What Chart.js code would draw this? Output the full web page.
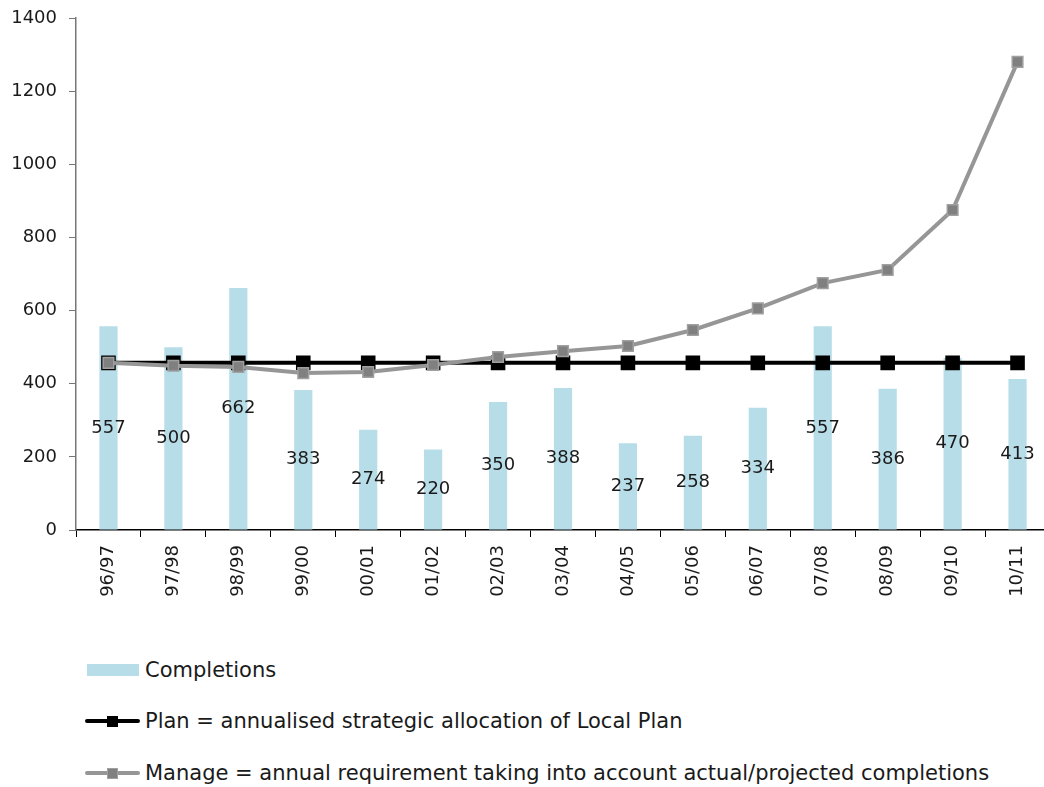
<!DOCTYPE html>
<html>
<head>
<meta charset="utf-8">
<script src="https://cdn.jsdelivr.net/npm/chart.js@4/dist/chart.umd.min.js"></script>
<style>
  body { margin: 0; overflow: hidden; background: #fff; }
  #wrap { position: relative; width: 1052px; height: 787px; }
  #c { position: absolute; left: 0; top: 0; }
  #legend { position: absolute; left: 85px; top: 0; font-family: "DejaVu Sans", sans-serif; font-size: 21px; color: #1a1a1a; }
  .item { position: absolute; left: 0; white-space: nowrap; display: flex; align-items: center; height: 30px; }
  .sw { position: relative; width: 55px; height: 30px; margin-right: 5px; }
  .box { position: absolute; left: 2px; top: 9px; width: 52px; height: 12px; }
  .ln { position: absolute; left: 0; top: 13px; width: 55px; height: 4px; border-radius: 2px; }
  .pt { position: absolute; left: 22px; top: 10px; width: 11px; height: 11px; box-sizing: border-box; }
</style>
</head>
<body>
<div id="wrap">
  <canvas id="c" width="1052" height="625"></canvas>
  <div id="legend"></div>
</div>
<script>
// years on the x axis
const years = ['96/97','97/98','98/99','99/00','00/01','01/02','02/03','03/04','04/05','05/06','06/07','07/08','08/09','09/10','10/11'];

// completions (bars, labelled)
const completions = [557, 500, 662, 383, 274, 220, 350, 388, 237, 258, 334, 557, 386, 470, 413];

// plan line
const plan = [457, 457, 457, 457, 457, 457, 457, 457, 457, 457, 457, 457, 457, 457, 457];

// manage line
const manage = [457, 449, 446, 429, 432, 451, 473, 489, 503, 547, 606, 675, 711, 875, 1280];

const yTicks = [0, 200, 400, 600, 800, 1000, 1200, 1400];

const names = [
  'Completions',
  'Plan = annualised strategic allocation of Local Plan',
  'Manage = annual requirement taking into account actual/projected completions'
];

const font = '"DejaVu Sans", sans-serif';

// write the bar values in the middle of each bar
const barLabels = {
  id: 'barLabels',
  afterDatasetsDraw: function (chart) {
    const ctx = chart.ctx;
    const meta = chart.getDatasetMeta(2);
    ctx.save();
    ctx.font = '18px ' + font;
    ctx.fillStyle = '#1a1a1a';
    ctx.textAlign = 'center';
    ctx.textBaseline = 'middle';
    meta.data.forEach(function (bar, i) {
      ctx.fillText(String(completions[i]), bar.x, (bar.y + bar.base) / 2);
    });
    ctx.restore();
  }
};

const chart = new Chart(document.getElementById('c'), {
  type: 'bar',
  data: {
    labels: years,
    datasets: [
      {
        type: 'line',
        label: names[2],
        data: manage,
        order: 0,
        borderColor: '#969696',
        borderWidth: 4,
        pointStyle: 'rect',
        pointRadius: 7.5,
        pointBackgroundColor: '#808080',
        pointBorderColor: '#a0a0a0',
        pointBorderWidth: 1.5,
        tension: 0
      },
      {
        type: 'line',
        label: names[1],
        data: plan,
        order: 1,
        borderColor: '#000',
        borderWidth: 4,
        pointStyle: 'rect',
        pointRadius: 7.5,
        pointBackgroundColor: '#000',
        pointBorderColor: '#000',
        tension: 0
      },
      {
        label: names[0],
        data: completions,
        order: 2,
        backgroundColor: '#b7dde8',
        barPercentage: 0.28,
        categoryPercentage: 1
      }
    ]
  },
  options: {
    responsive: false,
    animation: false,
    layout: { autoPadding: false, padding: { top: 18, right: 2, left: 0, bottom: 0 } },
    plugins: {
      legend: { display: false },
      tooltip: { enabled: false }
    },
    scales: {
      x: {
        offset: true,
        grid: { drawOnChartArea: false, offset: true, tickLength: 7, color: '#000' },
        border: { color: '#000', width: 1.5 },
        ticks: { maxRotation: 90, minRotation: 90, padding: 8, color: '#1a1a1a', font: { family: font, size: 18 } },
        afterFit: function (s) { s.height = 95; s.paddingLeft = 0; s.paddingRight = 0; }
      },
      y: {
        min: 0,
        max: 1400,
        afterBuildTicks: function (s) { s.ticks = yTicks.map(v => ({ value: v })); },
        grid: { drawOnChartArea: false, tickLength: 7, color: '#777' },
        border: { color: '#777', width: 1.5 },
        ticks: { padding: 12, color: '#1a1a1a', font: { family: font, size: 18 }, callback: v => String(v) },
        afterFit: function (s) { s.width = 76; s.paddingTop = 0; s.paddingBottom = 0; }
      }
    }
  },
  plugins: [barLabels]
});

// legend below the chart, one item per line
const legendTops = [655, 706, 758];
const legendOrder = [2, 1, 0];
const legend = document.getElementById('legend');
legendOrder.forEach(function (di, row) {
  const ds = chart.data.datasets[di];
  const item = document.createElement('div');
  item.className = 'item';
  item.style.top = legendTops[row] + 'px';
  const sw = document.createElement('div');
  sw.className = 'sw';
  if (ds.type === 'line') {
    const ln = document.createElement('div');
    ln.className = 'ln';
    ln.style.background = ds.borderColor;
    const pt = document.createElement('div');
    pt.className = 'pt';
    pt.style.background = ds.pointBackgroundColor;
    pt.style.border = '1px solid ' + ds.pointBorderColor;
    sw.appendChild(ln);
    sw.appendChild(pt);
  } else {
    const box = document.createElement('div');
    box.className = 'box';
    box.style.background = ds.backgroundColor;
    sw.appendChild(box);
  }
  item.appendChild(sw);
  item.appendChild(document.createTextNode(ds.label));
  legend.appendChild(item);
});
</script>
</body>
</html>
